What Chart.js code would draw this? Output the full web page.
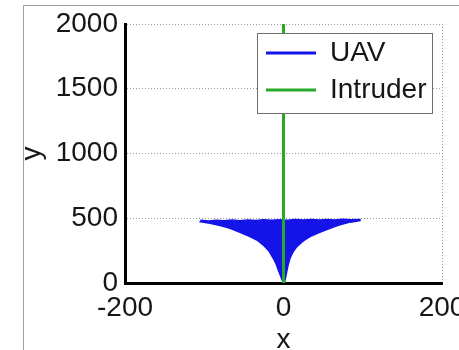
<!DOCTYPE html>
<html><head><meta charset="utf-8">
<script src="https://cdn.jsdelivr.net/npm/chart.js@4.4.0/dist/chart.umd.min.js"></script>
<style>html,body{margin:0;padding:0;background:#fff;overflow:hidden}</style>
</head><body>
<canvas id="c" width="459" height="350"></canvas>
<script>
// ---- data ----
const seriesNames = ['UAV', 'Intruder'];
const xTickValues = [-200, 0, 200];
const yTickValues = [0, 500, 1000, 1500, 2000];
const axisTitles = { x: 'x', y: 'y' };
// UAV trajectories envelope (outline: left edge, ragged top, right edge)
const uavX = [0.5, -1.5, -4, -6.6, -9.5, -12.9, -18, -25.5, -33, -42.3, -55, -67.5, -80, -92.7, -105,
  -104, -95, -85, -75, -65, -55, -45, -35, -25, -15, -5, 5, 15, 25, 35, 45, 55, 65, 75, 85, 96.5,
  96.5, 84, 70, 58.7, 45, 33.4, 25, 16.7, 12, 8.2, 6, 4, 2.5, 1];
const uavY = [0, 20, 60, 100, 150, 191, 245, 293, 330, 358, 392, 422, 443, 461, 474,
  484, 479, 485, 480, 486, 481, 487, 482, 488, 484, 489, 485, 490, 486, 491, 486, 491, 487, 492, 488, 490,
  482, 470, 448, 422, 390, 358, 325, 280, 240, 191, 145, 87, 40, 0];
const intruderX = [0, 0];
const intruderY = [0, 2000];

const toPoints = (xs, ys) => xs.map((x, i) => ({ x: x, y: ys[i] }));
const FONT = "'Liberation Sans', Arial, sans-serif";
const BLUE = 'rgb(20,20,232)';
const GREEN = 'rgb(40,170,40)';
const TXT = '#161616';
const GRID = '#9c9c9c';

const framePlugin = {
  id: 'frame',
  beforeDraw(chart) {
    const ctx = chart.ctx;
    ctx.save();
    ctx.fillStyle = '#fff';
    ctx.fillRect(0, 0, chart.width, chart.height);
    ctx.strokeStyle = '#a0a0a0';
    ctx.lineWidth = 1;
    ctx.beginPath();
    ctx.moveTo(23.5, chart.height);
    ctx.lineTo(23.5, 5.5);
    ctx.lineTo(chart.width, 5.5);
    ctx.stroke();
    ctx.restore();
  }
};

const legendPlugin = {
  id: 'legendPlace',
  afterLayout(chart) {
    const lg = chart.legend, ca = chart.chartArea;
    lg.left = ca.right - 185;
    lg.top = ca.top + 6;
    lg.right = ca.right;
    lg.bottom = lg.top + 200;
    lg.width = lg.right - lg.left;
    lg.height = lg.bottom - lg.top;
  },
  afterDatasetsDraw(chart) {
    const lg = chart.legend, ctx = chart.ctx;
    const hb = lg.legendHitBoxes;
    if (!hb || !hb.length) return;
    const x0 = Math.round(lg.left) + 0.5;
    const y0 = Math.round(hb[0].top - 6) + 0.5;
    const x1 = Math.round(Math.max(...hb.map(h => h.left + h.width)) + 6) + 0.5;
    const last = hb[hb.length - 1];
    const y1 = Math.round(last.top + last.height + 9) + 0.5;
    ctx.save();
    ctx.fillStyle = '#fff';
    ctx.fillRect(x0, y0, x1 - x0, y1 - y0);
    ctx.strokeStyle = '#6e6e6e';
    ctx.lineWidth = 1;
    ctx.strokeRect(x0, y0, x1 - x0, y1 - y0);
    ctx.restore();
    lg.draw(chart.chartArea);
  }
};

new Chart(document.getElementById('c'), {
  type: 'scatter',
  data: {
    datasets: [
      { label: seriesNames[0], data: toPoints(uavX, uavY), showLine: true, fill: 'shape',
        borderColor: BLUE, backgroundColor: BLUE, borderWidth: 1.5, pointRadius: 0, tension: 0, order: 1 },
      { label: seriesNames[1], data: toPoints(intruderX, intruderY), showLine: true, fill: false,
        borderColor: GREEN, backgroundColor: GREEN, borderWidth: 3, pointRadius: 0, order: 0 }
    ]
  },
  options: {
    responsive: false,
    animation: false,
    devicePixelRatio: 1,
    layout: { padding: { top: 24, left: 0, right: 0, bottom: 0 } },
    plugins: {
      tooltip: { enabled: false },
      legend: {
        position: 'chartArea',
        align: 'start',
        labels: {
          font: { family: FONT, size: 28 },
          color: TXT,
          boxWidth: 50,
          boxHeight: 3,
          padding: 9,
          generateLabels(chart) {
            return chart.data.datasets.map((ds, i) => ({
              text: ds.label, fillStyle: ds.borderColor, strokeStyle: ds.borderColor,
              lineWidth: 0, hidden: false, datasetIndex: i, fontColor: TXT
            }));
          }
        }
      }
    },
    scales: {
      x: {
        type: 'linear', min: xTickValues[0], max: xTickValues[xTickValues.length - 1],
        afterBuildTicks: s => { s.ticks = xTickValues.map(v => ({ value: v })); },
        grid: { color: c => (c.tick && c.tick.value === xTickValues[0]) ? 'rgba(0,0,0,0)' : GRID, lineWidth: 1, drawTicks: false },
        border: { display: true, color: '#000', width: 3, dash: [1, 2] },
        ticks: { font: { family: FONT, size: 28 }, color: TXT, padding: 8, maxRotation: 0, autoSkip: false, callback: v => String(v) },
        title: { display: true, text: axisTitles.x, font: { family: FONT, size: 28, lineHeight: 0.7 }, color: TXT, padding: 0 },
        afterFit: s => { s.height = 67; s.paddingRight = 17; s.paddingLeft = 0; }
      },
      y: {
        type: 'linear', min: yTickValues[0], max: yTickValues[yTickValues.length - 1],
        afterBuildTicks: s => { s.ticks = yTickValues.map(v => ({ value: v })); },
        grid: { color: c => (c.tick && c.tick.value === yTickValues[0]) ? 'rgba(0,0,0,0)' : GRID, lineWidth: 1, drawTicks: false },
        border: { display: true, color: '#000', width: 3, dash: [1, 2] },
        ticks: { font: { family: FONT, size: 28 }, color: TXT, padding: 7, autoSkip: false, callback: v => String(v) },
        title: { display: true, text: axisTitles.y, font: { family: FONT, size: 28, lineHeight: 1 }, color: TXT, padding: { top: 18, bottom: 0 } },
        afterFit: s => { s.width = 125; s.paddingTop = 0; s.paddingBottom = 0; }
      }
    }
  },
  plugins: [framePlugin, legendPlugin]
});
</script>
</body></html>
